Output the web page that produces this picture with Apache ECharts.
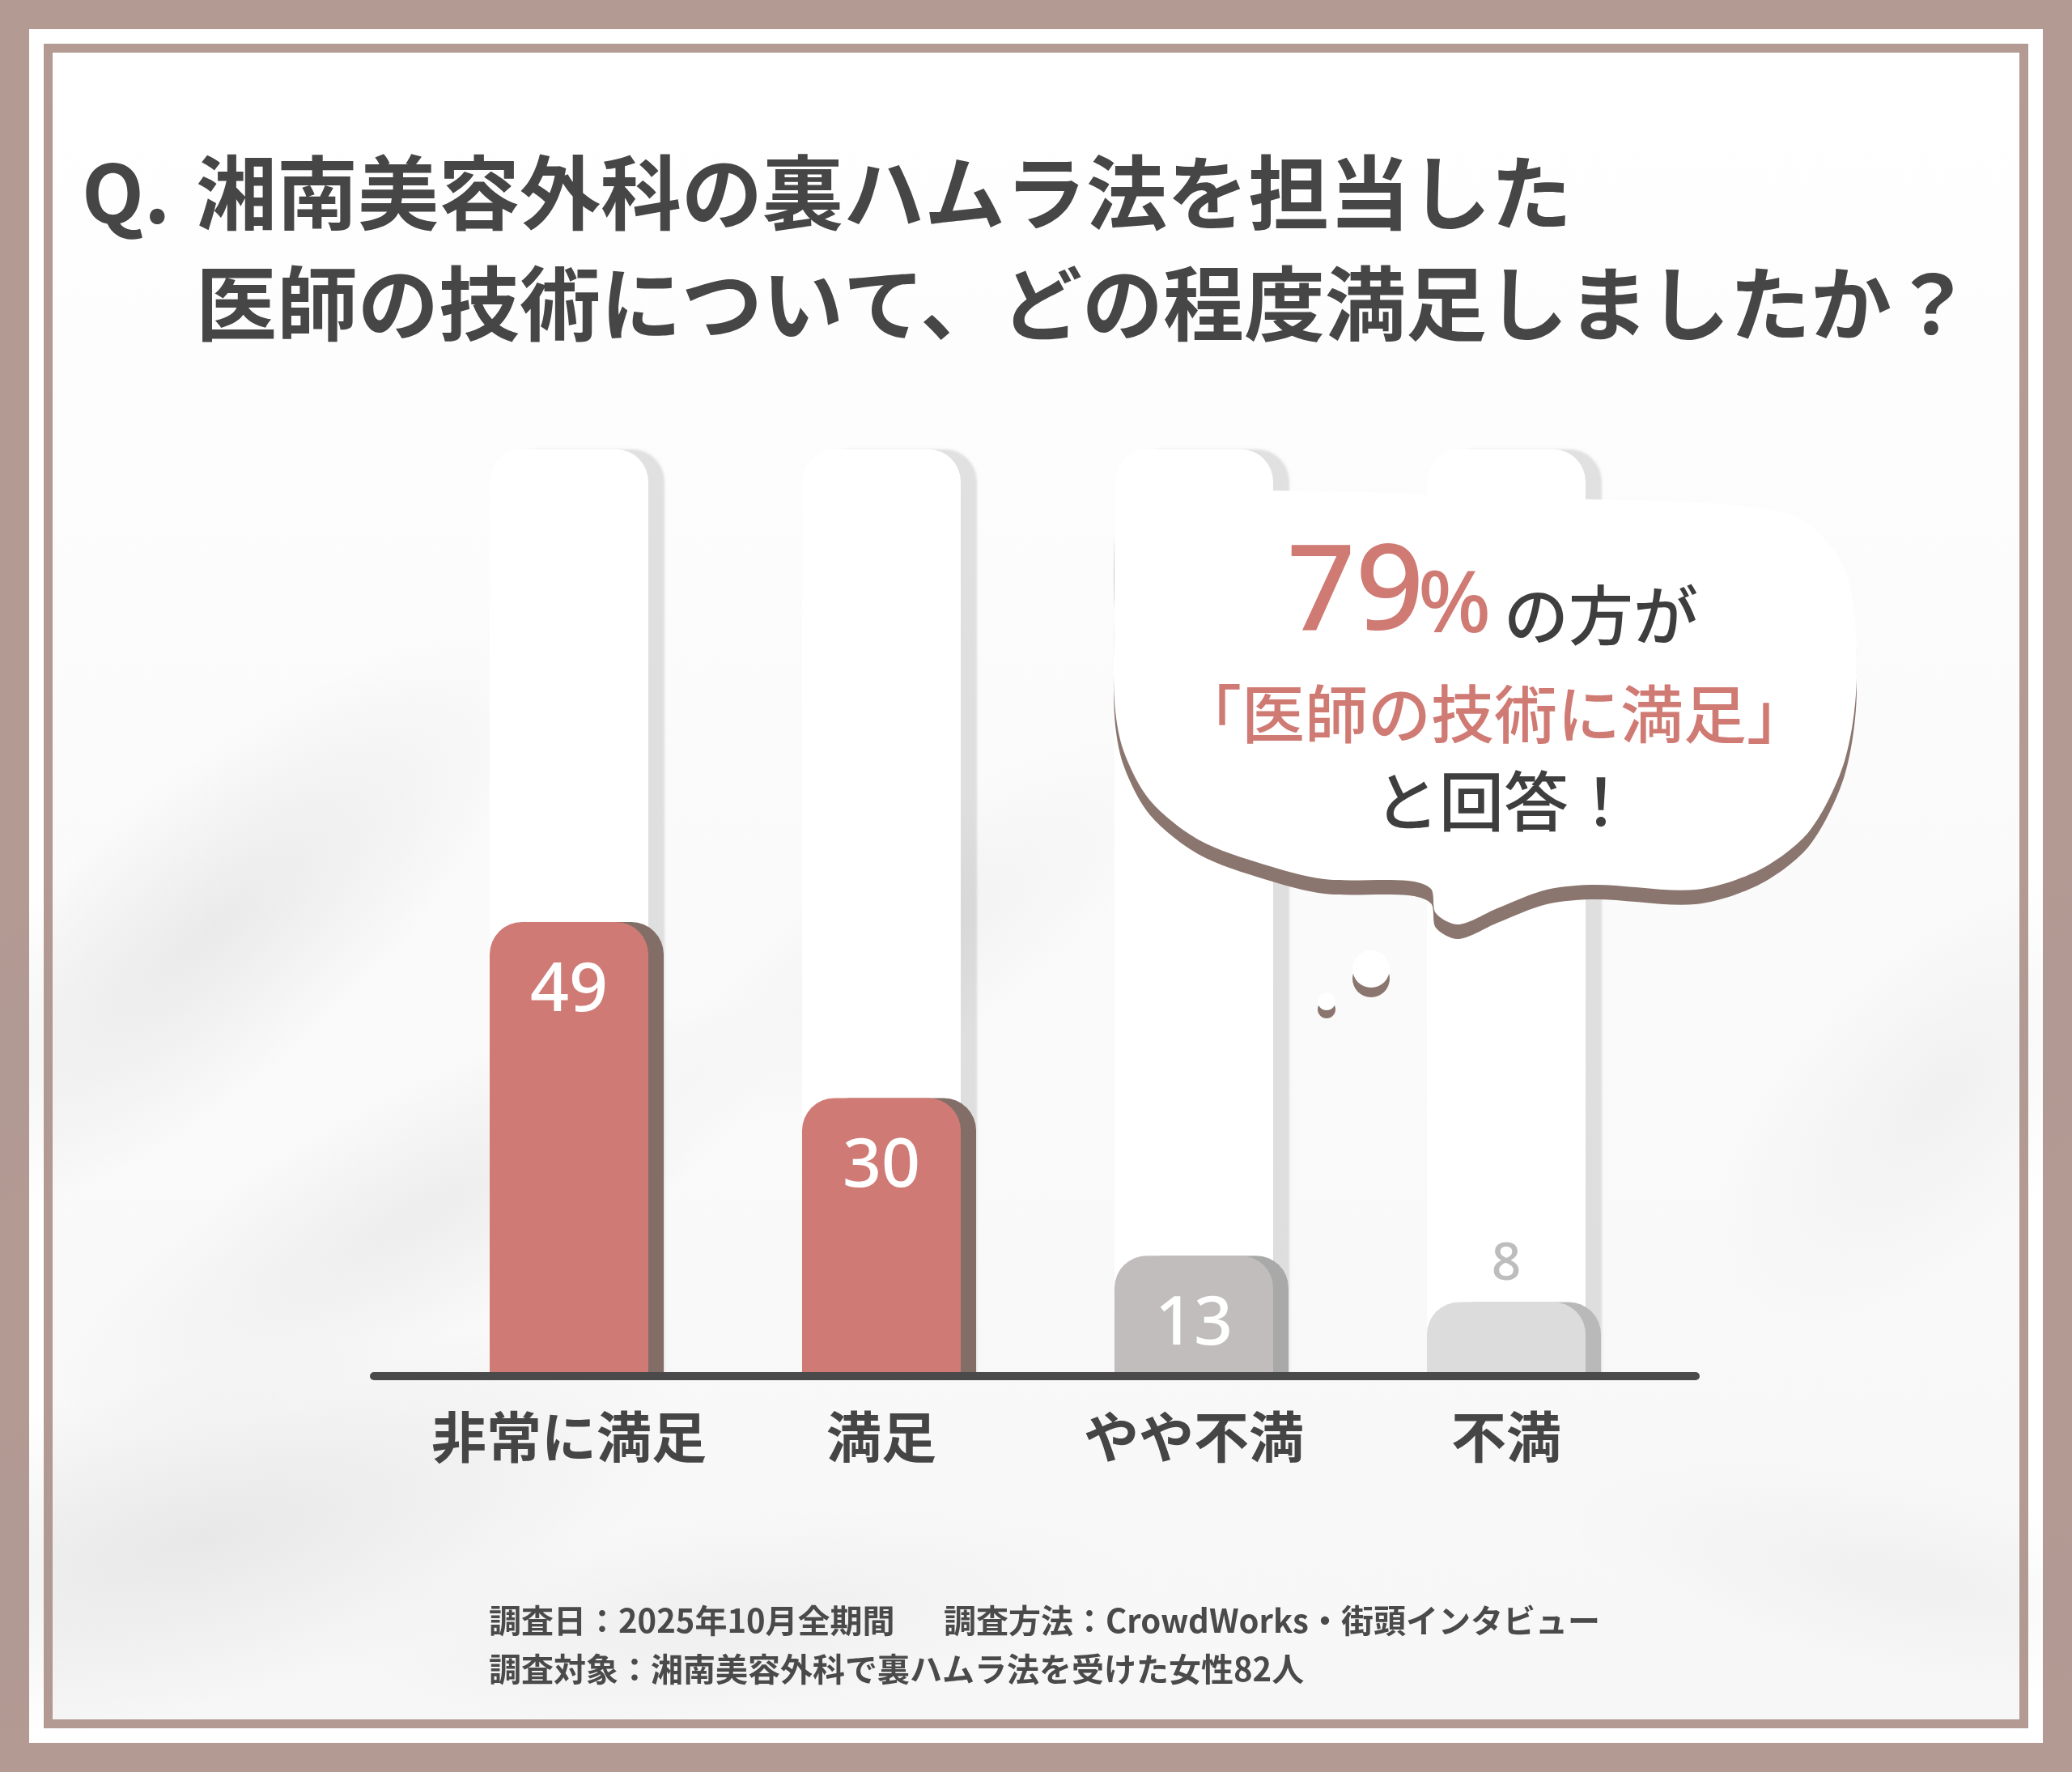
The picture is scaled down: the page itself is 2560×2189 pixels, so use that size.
<!DOCTYPE html>
<html>
<head>
<meta charset="utf-8">
<script src="https://cdn.jsdelivr.net/npm/echarts@6/dist/echarts.min.js"></script>
<style>
html,body{margin:0;padding:0;background:#b39a93;}
#c{width:2560px;height:2189px;}
</style>
</head>
<body>
<div id="c"></div>
<script>
// ---- data ----
const categories = ['非常に満足', '満足', 'やや不満', '不満'];
const values = [49, 30, 13, 8];
const valueMax = 100;
const titleQ = 'Q.';
const titleLine1 = '湘南美容外科の裏ハムラ法を担当した';
const titleLine2 = '医師の技術について、どの程度満足しましたか？';
const bubbleNum = '79';
const bubblePct = '%';
const bubbleLine1 = 'の方が';
const bubbleLine2 = '「医師の技術に満足」';
const bubbleLine3 = 'と回答！';
const footer1a = '調査日：2025年10月全期間';
const footer1b = '調査方法：CrowdWorks・街頭インタビュー';
const footer2 = '調査対象：湘南美容外科で裏ハムラ法を受けた女性82人';

// ---- styles ----
const JP = '"Noto Sans CJK JP", "Noto Sans", sans-serif';
const LAT = '"Noto Sans", "Noto Sans CJK JP", sans-serif';
const BROWN = '#b39a93';
const RED = '#cf7a74';
const DARK = '#464646';
const faces = [RED, RED, '#c0bdbc', '#dcdcdc'];
const shades = ['#836d67', '#836d67', '#a9a9a9', '#b9b9b9'];

const barData = values.map((v, i) => {
  const item = { value: v, itemStyle: { color: faces[i], shadowColor: shades[i] } };
  if (i === values.length - 1) {
    item.label = { position: 'top', distance: 14, color: '#bdbdbd', fontSize: 64 };
  }
  return item;
});

function txt(text, x, y, font, fill, align, z) {
  return {
    type: 'text', x: x, y: y, z: z || 30,
    style: { text: text, font: font, fill: fill, align: align || 'left', verticalAlign: 'middle',
             textAlign: align || 'left', textVerticalAlign: 'middle' }
  };
}
function blot(x, y, r, sx, sy, rot, a) {
  return {
    type: 'circle', x: x, y: y, scaleX: sx, scaleY: sy, rotation: rot, z: -27, silent: true,
    shape: { cx: 0, cy: 0, r: r },
    style: { fill: { type: 'radial', x: 0.5, y: 0.5, r: 0.5,
      colorStops: [{ offset: 0, color: 'rgba(150,150,150,' + a + ')' }, { offset: 1, color: 'rgba(150,150,150,0)' }] } }
  };
}

const bubblePts = [
  [1377, 640], [1384, 609], [1574, 606], [1972, 617], [2156, 625], [2232, 645], [2282, 710],
  [2294, 836], [2279, 940], [2236, 1026], [2175, 1074], [2095, 1099], [1972, 1093], [1911, 1099],
  [1850, 1122], [1802, 1142], [1774, 1128], [1768, 1098], [1740, 1088], [1636, 1086], [1562, 1068],
  [1482, 1038], [1421, 989], [1388, 927], [1377, 866], [1377, 740]
];

const chart = echarts.init(document.getElementById('c'), null, { renderer: 'canvas' });
chart.setOption({
  animation: false,
  backgroundColor: BROWN,
  grid: [
    { left: 510, right: 506, top: 555, bottom: 489 },
    { left: 462, right: 465, top: 555, bottom: 489 }
  ],
  xAxis: [
    {
      type: 'category', gridIndex: 0, data: categories,
      axisLine: { show: false }, axisTick: { show: false },
      axisLabel: { interval: 0, margin: 41, fontSize: 68, fontWeight: 'bold', color: '#454545', fontFamily: JP }
    },
    {
      type: 'value', gridIndex: 1, min: 0, max: 1, z: 10,
      axisLine: { show: true, onZero: false, lineStyle: { color: '#4a4a4a', width: 10 } },
      axisTick: { show: false }, axisLabel: { show: false }, splitLine: { show: false }
    }
  ],
  yAxis: [
    { type: 'value', gridIndex: 0, min: 0, max: valueMax, show: false },
    { type: 'value', gridIndex: 1, min: 0, max: 1, show: false }
  ],
  series: [{
    type: 'bar', xAxisIndex: 0, yAxisIndex: 0, barWidth: 196,
    showBackground: true,
    backgroundStyle: { color: '#ffffff', borderRadius: [40, 40, 0, 0],
      shadowColor: 'rgba(0,0,0,0.11)', shadowOffsetX: 20, shadowBlur: 3 },
    itemStyle: { borderRadius: [40, 40, 0, 0], shadowOffsetX: 19, shadowOffsetY: 0, shadowBlur: 0 },
    label: { show: true, position: 'insideTop', distance: 44, color: '#ffffff', fontSize: 84,
      fontFamily: LAT, fontWeight: 500 },
    emphasis: { disabled: true },
    data: barData
  }],
  graphic: [
    { type: 'rect', z: -30, silent: true, shape: { x: 36, y: 36, width: 2488, height: 2117 }, style: { fill: '#ffffff' } },
    { type: 'rect', z: -29, silent: true, shape: { x: 54, y: 54, width: 2452, height: 2081 }, style: { fill: BROWN } },
    { type: 'rect', z: -28, silent: true, shape: { x: 65, y: 65, width: 2430, height: 2059 },
      style: { fill: { type: 'linear', x: 0, y: 0, x2: 0, y2: 1,
        colorStops: [{ offset: 0, color: '#ffffff' }, { offset: 0.4, color: '#fbfbfb' }, { offset: 1, color: '#f7f7f7' }] } } },
    blot(260, 1150, 520, 1, 0.35, 0.7, 0.16),
    blot(520, 1500, 500, 1, 0.3, 0.5, 0.12),
    blot(250, 1900, 600, 1, 0.35, 0.25, 0.16),
    blot(900, 2000, 500, 1, 0.25, 0.1, 0.09),
    blot(1150, 1150, 380, 1, 0.35, 0.6, 0.08),
    blot(2400, 1350, 360, 1, 0.5, 0.8, 0.09),
    blot(2350, 1950, 420, 1, 0.3, -0.2, 0.08),

    txt(titleQ, 101, 238, 'bold 100px ' + JP, DARK),
    txt(titleLine1, 242, 238, 'bold 100px ' + JP, DARK),
    txt(titleLine2, 242, 375, 'bold 100px ' + JP, DARK),

    { type: 'polygon', z: 40, silent: true, shape: { points: bubblePts, smooth: 0.3 },
      style: { fill: '#ffffff', shadowColor: '#8b766f', shadowOffsetY: 18, shadowBlur: 0 } },
    { type: 'circle', z: 40, silent: true, shape: { cx: 1694, cy: 1197, r: 23 },
      style: { fill: '#ffffff', shadowColor: '#8b766f', shadowOffsetY: 12, shadowBlur: 0 } },
    { type: 'circle', z: 40, silent: true, shape: { cx: 1639, cy: 1237, r: 11 },
      style: { fill: '#ffffff', shadowColor: '#8b766f', shadowOffsetY: 10, shadowBlur: 0 } },

    txt(bubbleNum, 1590, 736, '500 148px ' + LAT, '#d07a74', 'left', 41),
    txt(bubblePct, 1752, 751, '500 106px ' + LAT, '#d07a74', 'left', 41),
    txt(bubbleLine1, 1978, 760, '500 80px ' + JP, '#3e3e3e', 'center', 41),
    txt(bubbleLine2, 1846, 882, '500 78px ' + JP, '#d07a74', 'center', 41),
    txt(bubbleLine3, 1858, 990, '500 80px ' + JP, '#3e3e3e', 'center', 41),

    txt(footer1a, 604, 2002, 'bold 40px ' + JP, '#4a4a4a'),
    txt(footer1b, 1166, 2002, 'bold 40px ' + JP, '#4a4a4a'),
    txt(footer2, 604, 2062, 'bold 40px ' + JP, '#4a4a4a')
  ]
});
</script>
</body>
</html>
